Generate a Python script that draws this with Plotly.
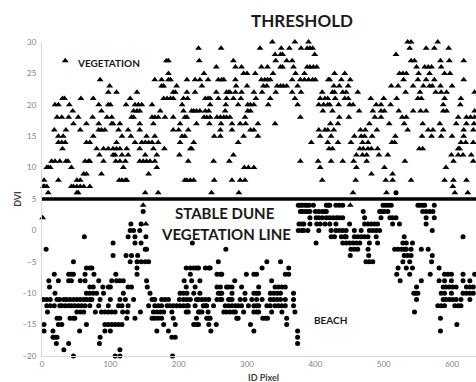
import plotly.graph_objects as go

# ---- Vegetation points (triangles): DVI level -> ID Pixel values ----
veg_levels = [30, 29, 28, 27, 26, 25, 24, 23, 22, 21, 20, 19, 18, 17, 16, 15,
              14, 13, 12, 11, 10, 9, 8, 7, 6, 4, 2, 1]
veg_ids = [
    [337, 370, 390, 535, 540, 579],
    [229, 262, 319, 350, 362, 379, 388, 392, 396, 538, 562, 574, 595],
    [341, 349, 352, 399, 518],
    [34, 182, 185, 230, 280, 342, 358, 366, 540, 545, 583, 596, 617],
    [255, 283, 292, 321, 330, 349, 352, 368, 388, 392, 397, 402, 548, 560, 565, 570, 584],
    [185, 237, 295, 300, 312, 338, 371, 384, 428, 443, 523, 528, 533, 551, 567, 589, 597],
    [85, 165, 175, 185, 188, 212, 224, 231, 243, 258, 263, 266, 283, 321, 326, 330, 334,
     366, 378, 384, 390, 396, 400, 419, 421, 438, 451, 529, 550, 562, 574, 617],
    [99, 175, 178, 197, 234, 284, 300, 324, 329, 344, 349, 353, 358, 374, 427, 435, 448,
     511, 521, 543, 558, 567, 571, 583, 600],
    [97, 109, 139, 192, 195, 212, 224, 255, 270, 273, 275, 283, 292, 310, 322, 342, 366,
     379, 410, 425, 428, 440, 445, 462, 532, 553, 576, 584, 592, 633],
    [30, 33, 57, 75, 129, 178, 183, 188, 192, 207, 213, 239, 243, 246, 258, 270, 280, 291,
     313, 334, 370, 407, 414, 418, 429, 443, 448, 481, 500, 519, 550, 555, 589, 613],
    [19, 24, 40, 83, 97, 100, 123, 136, 141, 146, 161, 205, 246, 269, 287, 301, 305, 310,
     331, 374, 405, 412, 418, 421, 434, 450, 455, 489, 496, 510, 587, 612],
    [45, 87, 134, 139, 143, 173, 207, 219, 222, 226, 231, 239, 244, 268, 301, 305, 411,
     425, 464, 484, 496, 501, 522, 543, 554, 562, 587, 592, 633],
    [22, 29, 39, 53, 74, 95, 102, 131, 134, 161, 165, 170, 180, 192, 209, 212, 237, 241,
     246, 256, 261, 266, 270, 275, 297, 378, 435, 449, 487, 496, 527, 533, 609, 621, 627, 633],
    [46, 65, 83, 102, 104, 114, 143, 163, 202, 226, 245, 262, 278, 290, 298, 316, 341,
     422, 433, 479, 508, 530, 557, 582, 606, 621, 632],
    [18, 35, 56, 83, 87, 92, 112, 126, 143, 192, 200, 214, 261, 278, 305, 310, 405, 414,
     418, 427, 466, 473, 490, 535, 565, 572, 587, 617, 631],
    [24, 31, 75, 117, 130, 153, 165, 205, 209, 252, 261, 295, 316, 407, 423, 457, 467,
     472, 483, 517, 556, 570, 584, 600, 617],
    [24, 29, 34, 65, 70, 109, 136, 146, 151, 156, 161, 170, 202, 222, 287, 394, 418, 433,
     452, 469, 477, 512, 516, 613, 620, 631],
    [30, 80, 90, 97, 104, 109, 114, 124, 143, 163, 179, 217, 219, 420, 425, 465, 470, 477,
     482, 491, 552, 557, 609, 611],
    [84, 104, 107, 117, 126, 151, 168, 201, 280, 460, 469, 475, 493, 506, 599, 609, 616, 628],
    [14, 19, 26, 35, 38, 63, 68, 70, 90, 108, 114, 122, 143, 148, 153, 158, 165, 214, 251,
     274, 378, 404, 423, 440, 456, 475, 531, 602, 631],
    [7, 9, 12, 43, 119, 168, 296, 302, 310, 407, 460, 501, 591],
    [61, 65, 87, 156, 482, 513],
    [3, 24, 51, 56, 113, 117, 122, 124, 209, 212, 217, 222, 252, 278, 290, 297, 410, 459,
     503, 513, 540, 589, 602, 621],
    [2, 4, 7, 43, 46, 51, 56, 61, 70, 601],
    [9, 51, 53, 151, 170, 248, 288, 455, 504, 604, 623],
    [148, 451],
    [1],
    [152],
]

# ---- Beach points (circles): DVI level -> ID Pixel values ----
beach_levels = [6, 4, 3, 2, 1, 0, -1, -2, -3, -4, -5, -6, -7, -8, -9, -10,
                -11, -12, -13, -14, -15, -16, -17, -18, -19, -20]
beach_ids = [
    [518],
    [375, 378, 381, 385, 388, 391, 397, 416, 419, 421, 430, 435, 440, 499, 503, 507, 511,
     550, 553, 557, 560, 574],
    [148, 378, 381, 385, 388, 392, 400, 405, 410, 414, 416, 470, 494, 497, 501, 506, 557,
     562, 567, 572],
    [392, 401, 405, 410, 416, 421, 426, 431, 435, 440, 472, 496, 509, 513, 518, 562, 574],
    [130, 145, 376, 380, 383, 392, 402, 407, 414, 421, 430, 450, 472, 477, 482, 487, 491,
     513, 523, 562],
    [129, 134, 143, 375, 380, 383, 389, 405, 423, 430, 435, 440, 445, 457, 467, 479, 484,
     489, 494, 571],
    [62, 126, 136, 152, 423, 428, 438, 443, 445, 457, 462, 467, 472, 477, 489, 530, 616],
    [104, 136, 145, 220, 401, 440, 445, 450, 455, 460, 465, 479, 491, 528, 533, 542],
    [6, 151, 153, 269, 452, 457, 462, 477, 516, 521, 526, 530, 533, 540, 555, 565],
    [104, 123, 131, 140, 451, 478, 530, 535, 540, 571],
    [46, 129, 139, 145, 151, 156, 258, 329, 349, 474, 479, 484, 528, 538, 570],
    [65, 70, 73, 139, 211, 217, 222, 226, 229, 239, 244, 246, 322, 361, 521, 533, 542, 581],
    [18, 39, 43, 46, 63, 76, 108, 139, 217, 256, 261, 263, 299, 310, 314, 356, 361, 519,
     538, 568, 589, 594, 599, 616, 633],
    [10, 24, 39, 43, 56, 63, 83, 102, 109, 114, 119, 153, 208, 219, 231, 282, 336, 524,
     555, 581, 589, 599, 616, 626],
    [11, 70, 75, 89, 97, 100, 126, 131, 154, 211, 224, 256, 261, 270, 273, 278, 292, 317,
     341, 346, 351, 356, 548, 587, 591, 596, 601, 606, 621, 626, 631],
    [19, 65, 70, 75, 80, 90, 119, 158, 202, 207, 212, 222, 231, 258, 261, 263, 278, 297,
     310, 314, 317, 334, 339, 344, 349, 368, 544, 547, 550, 584, 589, 599, 616, 621, 626, 631],
    [2, 7, 12, 22, 26, 32, 36, 41, 46, 51, 56, 61, 65, 70, 73, 85, 100, 114, 122, 134, 161,
     165, 175, 180, 185, 201, 207, 212, 217, 226, 229, 234, 239, 244, 256, 261, 263, 273,
     275, 278, 290, 297, 307, 314, 322, 334, 339, 344, 349, 356, 368, 548, 587, 591, 596,
     601, 606, 613, 626],
    [7, 12, 18, 26, 29, 34, 39, 43, 48, 53, 58, 63, 70, 83, 97, 112, 117, 126, 156, 165,
     170, 175, 183, 187, 192, 197, 202, 207, 212, 214, 224, 236, 239, 241, 251, 268, 273,
     278, 283, 287, 292, 302, 310, 314, 317, 329, 334, 341, 346, 351, 356, 368, 579, 584,
     589, 604, 609, 613],
    [8, 51, 56, 61, 78, 87, 92, 97, 102, 107, 118, 125, 144, 163, 168, 173, 178, 190, 211,
     214, 229, 231, 234, 243, 266, 270, 275, 280, 283, 295, 310, 314, 317, 336, 351, 370, 545],
    [22, 26, 41, 46, 48, 124, 136, 161, 165, 170, 175, 192, 226, 241, 244, 246, 285, 287,
     323, 327, 330, 358, 583],
    [3, 24, 29, 65, 92, 97, 102, 107, 112, 117, 178, 195, 222, 226, 229, 244, 255, 305,
     358, 607],
    [3, 16, 55, 92, 100, 168, 185, 247, 310, 374, 583],
    [16, 19, 22, 85, 190, 195, 374],
    [21, 39, 84, 374],
    [32, 114],
    [46, 107, 114, 191],
]

threshold_dvi = 5
x_ticks = [0, 100, 200, 300, 400, 500, 600]
y_ticks = [-20, -15, -10, -5, 0, 5, 10, 15, 20, 25, 30]

veg_x, veg_y = [], []
for lvl, ids in zip(veg_levels, veg_ids):
    veg_x += ids
    veg_y += [lvl] * len(ids)
beach_x, beach_y = [], []
for lvl, ids in zip(beach_levels, beach_ids):
    beach_x += ids
    beach_y += [lvl] * len(ids)

FONT = "Lato, 'Liberation Sans', Arial, sans-serif"

fig = go.Figure()
fig.add_trace(go.Scatter(x=veg_x, y=veg_y, mode="markers", cliponaxis=False,
                         marker=dict(symbol="triangle-up", size=6, color="black"),
                         showlegend=False))
fig.add_trace(go.Scatter(x=beach_x, y=beach_y, mode="markers", cliponaxis=False,
                         marker=dict(symbol="circle", size=5, color="black"),
                         showlegend=False))

fig.add_shape(type="line", xref="paper", x0=0, x1=1, yref="y",
              y0=threshold_dvi, y1=threshold_dvi,
              line=dict(color="black", width=3.5))

ann_font = dict(family=FONT, color="#1a1a1a")
# title and axis titles (paper coordinates)
fig.add_annotation(xref="paper", yref="paper", x=0.599, y=1.07, xanchor="center",
                   yanchor="middle", text="<b>THRESHOLD</b>",
                   showarrow=False, font=dict(size=17, **ann_font))
fig.add_annotation(xref="paper", yref="paper", x=0.51, y=-0.068, xanchor="center",
                   yanchor="middle", text="<b>ID Pixel</b>",
                   showarrow=False, font=dict(size=9, family=FONT, color="#404040"))
fig.add_annotation(xref="paper", yref="paper", x=-0.058, y=0.5, xanchor="center",
                   yanchor="middle", text="<b>DVI</b>", textangle=-90, showarrow=False,
                   font=dict(size=9, family=FONT, color="#404040"))
# in-plot labels
fig.add_annotation(x=98, y=26.7, text="<b>VEGETATION</b>", showarrow=False,
                   font=dict(size=10, **ann_font))
fig.add_annotation(x=268, y=2.7, text="<b>STABLE DUNE</b>", showarrow=False,
                   font=dict(size=15, **ann_font))
fig.add_annotation(x=269, y=-0.6, text="<b>VEGETATION LINE</b>", showarrow=False,
                   font=dict(size=15, **ann_font))
fig.add_annotation(x=422, y=-14.2, text="<b>BEACH</b>", showarrow=False,
                   font=dict(size=10, **ann_font))

fig.update_layout(
    width=476, height=382,
    margin=dict(l=42, r=0, t=42, b=26, autoexpand=False),
    paper_bgcolor="white", plot_bgcolor="white",
    font=dict(family=FONT, size=8, color="#7f7f7f"),
    hovermode=False,
    xaxis=dict(range=[0, 635], tickvals=x_ticks, showgrid=False, zeroline=False,
               showline=True, linecolor="#d9d9d9", linewidth=1, ticks="",
               automargin=False, tickfont=dict(size=8, color="#7f7f7f")),
    yaxis=dict(range=[-20, 30], tickvals=y_ticks, showgrid=False, zeroline=False,
               showline=True, linecolor="#d9d9d9", linewidth=1, ticks="",
               automargin=False, ticklabelstandoff=3,
               tickfont=dict(size=8, color="#7f7f7f")),
)

fig.write_html("out.html", config={"displayModeBar": False},
               post_script="document.body.style.margin='0';")
